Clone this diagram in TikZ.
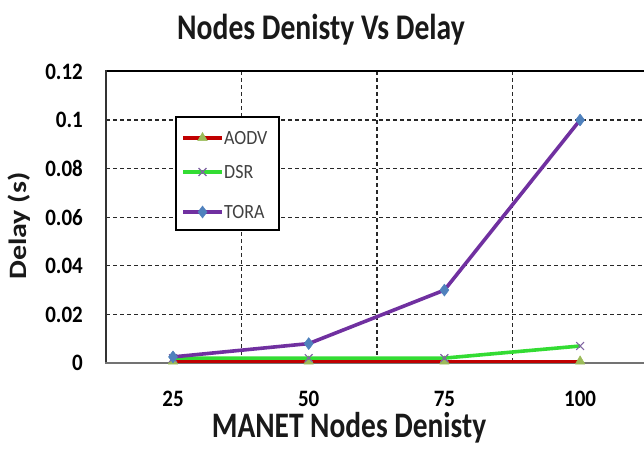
\documentclass[tikz,border=0pt]{standalone}
\usepackage{fontspec}
\setmainfont{Carlito}
\usetikzlibrary{plotmarks}
\definecolor{aodvline}{RGB}{192,0,0}
\definecolor{dsrline}{RGB}{51,220,51}
\definecolor{toraline}{RGB}{112,48,160}
\definecolor{aodvmark}{RGB}{155,187,89}
\definecolor{dsrmark}{RGB}{128,100,162}
\definecolor{toramark}{RGB}{79,129,189}
\definecolor{gridc}{RGB}{40,40,40}
\newcommand{\stretchtxt}[1]{\scalebox{1}[1.12]{#1}}
\newcommand{\bigstretch}[1]{\scalebox{1}[1.22]{#1}}
\begin{document}
\begin{tikzpicture}[x=1pt,y=-1pt,
  gridline/.style={gridc,line width=1.1pt,dash pattern=on 4pt off 3pt},
  series/.style={line width=3.6pt,line join=round},
  aodvm/.style={mark=triangle*,mark size=5.5pt,mark options={solid,fill=aodvmark,draw=aodvmark,line width=0.5pt}},
  dsrm/.style={mark=x,mark size=5.5pt,mark options={solid,draw=dsrmark,line width=1.2pt}},
  toram/.style={mark=diamond*,mark size=6pt,mark options={solid,fill=toramark,draw=toramark,line width=0.5pt}},
  ytick/.style={anchor=east,font=\bfseries\fontsize{21}{21}\selectfont,inner sep=0pt},
  xtick/.style={anchor=base,font=\bfseries\fontsize{21}{21}\selectfont,inner sep=0pt},
  legtxt/.style={anchor=west,font=\fontsize{18}{18}\selectfont,text=black!75,inner sep=0pt}
]
\useasboundingbox (0,0) rectangle (644,449);
\begin{scope}
\clip (0,0) rectangle (644,449);
% horizontal grid
\foreach \yy in {314.4,265.8,217.2,168.6,120} \draw[gridline] (106,\yy) -- (650,\yy);
% vertical grid
\foreach \xx in {241.5,377,512.7} \draw[gridline] (\xx,71.4) -- (\xx,363);
% frame
\draw[black,line width=2pt] (105,71.4) -- (650,71.4);
\draw[black!80,line width=2pt] (106,70.4) -- (106,363);
\draw[black!55,line width=2pt] (105,363) -- (650,363);
% series
\draw[series,aodvline,aodvm] plot coordinates {(173,361.3) (308.7,361.3) (444.4,361.3) (580.1,361.3)};
\draw[series,dsrline,dsrm] plot coordinates {(173,358.1) (308.7,358.1) (444.4,358.1) (580.1,346.0)};
\draw[series,toraline,toram] plot coordinates {(173,356.9) (308.7,343.6) (444.4,290.1) (580.1,120)};
\end{scope}
% legend
\draw[black,line width=2pt,fill=white] (176,117.5) rectangle (279,230);
\draw[series,aodvline] (183,138) -- (222,138);
\draw[aodvline,aodvm] plot coordinates {(202.5,138)};
\draw[series,dsrline] (183,172) -- (222,172);
\draw[dsrline,dsrm] plot coordinates {(202.5,172)};
\draw[series,toraline] (183,212) -- (222,212);
\draw[toraline,toram] plot coordinates {(202.5,212)};
\node[legtxt] (la) at (224,138) {\stretchtxt{AODV}};
\node[legtxt] (ld) at (224,172) {\stretchtxt{DSR}};
\node[legtxt] (lt) at (224,212) {\stretchtxt{TORA}};
% y ticks
\node[ytick] (y0) at (83,363) {\stretchtxt{0}};
\node[ytick] (y1) at (83,314.4) {\stretchtxt{0.02}};
\node[ytick] (y2) at (83,265.8) {\stretchtxt{0.04}};
\node[ytick] (y3) at (83,217.2) {\stretchtxt{0.06}};
\node[ytick] (y4) at (83,168.6) {\stretchtxt{0.08}};
\node[ytick] (y5) at (83,120) {\stretchtxt{0.1}};
\node[ytick] (y6) at (83,71.4) {\stretchtxt{0.12}};
% x ticks
\node[xtick] (x1) at (173,406) {\stretchtxt{25}};
\node[xtick] (x2) at (308.7,406) {\stretchtxt{50}};
\node[xtick] (x3) at (444.4,406) {\stretchtxt{75}};
\node[xtick] (x4) at (580.1,406) {\stretchtxt{100}};
% titles
\node[anchor=base,inner sep=0pt,font=\bfseries\fontsize{29.6}{30}\selectfont,text=black!90] (title) at (321,40) {\bigstretch{Nodes Denisty Vs Delay}};
\node[anchor=base,inner sep=0pt,font=\bfseries\fontsize{29.4}{30}\selectfont,text=black!90] (xlab) at (349,437) {\bigstretch{MANET Nodes Denisty}};
\node[rotate=90,inner sep=0pt,font=\bfseries\fontsize{25}{25}\selectfont,text=black!90] (ylab) at (19,226) {\scalebox{1.2}[1]{Delay (s)}};
\end{tikzpicture}
\end{document}
